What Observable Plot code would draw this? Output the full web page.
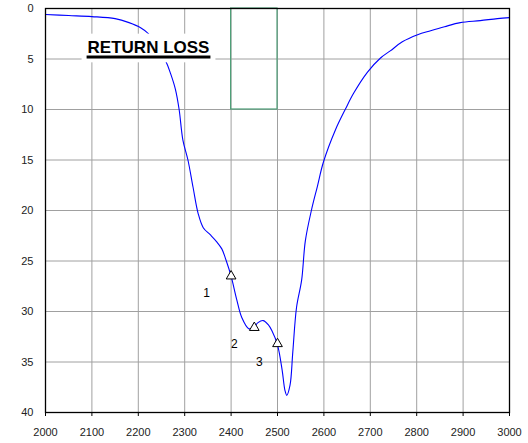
<!DOCTYPE html>
<html>
<head>
<meta charset="utf-8">
<script src="https://cdn.jsdelivr.net/npm/d3@7"></script>
<script src="https://cdn.jsdelivr.net/npm/@observablehq/plot@0.6"></script>
<style>
  html, body { margin: 0; padding: 0; background: #fff; }
  #chart svg { display: block; }
</style>
</head>
<body>
<div id="chart"></div>
<script>
const freq = [2000, 2050, 2100, 2150, 2180, 2205, 2222, 2240, 2260, 2270, 2280, 2288, 2296, 2307, 2318, 2329, 2340, 2355, 2369, 2380, 2389, 2400, 2412, 2423, 2438, 2448, 2458, 2469, 2480, 2488, 2500, 2510, 2516, 2520, 2527, 2533, 2541, 2552, 2560, 2573, 2586, 2599, 2625, 2647, 2664, 2694, 2722, 2743, 2769, 2802, 2830, 2860, 2894, 2937, 2974, 3000];
const loss = [0.6, 0.7, 0.8, 1.0, 1.4, 1.9, 2.5, 3.8, 5.3, 6.5, 8.0, 10.0, 13.0, 15.0, 17.7, 20.3, 21.7, 22.4, 23.1, 23.8, 24.9, 26.5, 28.8, 30.6, 31.7, 31.6, 31.1, 30.9, 31.3, 31.9, 33.3, 35.8, 37.8, 38.3, 37.3, 34.0, 29.6, 26.9, 23.0, 20.0, 17.6, 15.2, 12.0, 9.9, 8.4, 6.3, 4.9, 4.2, 3.3, 2.6, 2.2, 1.8, 1.4, 1.2, 1.0, 0.9];

const markerFreq = [2400, 2450, 2500];
const markerLoss = [26.5, 31.6, 33.2];
const markerLabels = ["1", "2", "3"];
const markerLabelFreq = [2347, 2407, 2461];
const markerLabelLoss = [28.2, 33.2, 35.0];

const specFreq = [2400, 2500];
const specLoss = [0, 10];

const xTicks = [2000, 2100, 2200, 2300, 2400, 2500, 2600, 2700, 2800, 2900, 3000];
const yTicks = [0, 5, 10, 15, 20, 25, 30, 35, 40];

const titleText = "RETURN LOSS";
const titleFreq = 2222;
const titleLoss = 3.85;
const titleSize = 17;

const curve = freq.map((f, i) => ({f, l: loss[i]}));
const markers = markerFreq.map((f, i) => ({f, l: markerLoss[i]}));
const mLabels = markerLabels.map((t, i) => ({t, f: markerLabelFreq[i], l: markerLabelLoss[i]}));

const chart = Plot.plot({
  width: 528,
  height: 443,
  marginLeft: 45,
  marginRight: 19,
  marginTop: 8,
  marginBottom: 31,
  style: {fontFamily: "Arial, 'Liberation Sans', sans-serif", fontSize: "11px", color: "#222", background: "#fff"},
  x: {domain: [2000, 3000], ticks: xTicks, tickFormat: d => String(d)},
  y: {domain: [0, 40], reverse: true, ticks: yTicks},
  marks: [
    Plot.ruleX(xTicks, {stroke: "#a0a0a0", strokeWidth: 1}),
    Plot.ruleY(yTicks, {stroke: "#a0a0a0", strokeWidth: 1}),
    Plot.rect([{x1: specFreq[0], x2: specFreq[1], y1: specLoss[0], y2: specLoss[1]}], {x1: "x1", x2: "x2", y1: "y1", y2: "y2", fill: "none", stroke: "#4f9f78", strokeWidth: 1.2}),
    Plot.line(curve, {x: "f", y: "l", stroke: "#0000ff", strokeWidth: 1.1, curve: "catmull-rom"}),
    Plot.dot(markers, {x: "f", y: "l", symbol: "triangle", r: 3.6, fill: "#fff", stroke: "#000", strokeWidth: 1}),
    Plot.text(mLabels, {x: "f", y: "l", text: "t", fontSize: 12, fill: "#000"}),
    Plot.text([titleText], {x: () => titleFreq, y: () => titleLoss, text: d => d, fontSize: titleSize, fontWeight: "bold", fill: "#000", className: "rl-title"}),
    Plot.axisX({ticks: xTicks, tickSize: 4, tickPadding: 12, tickFormat: d => String(d), fontSize: 11, stroke: "#000"}),
    Plot.axisY({ticks: yTicks, tickSize: 0, tickPadding: 12, fontSize: 11}),
    Plot.frame({stroke: "#000", strokeWidth: 1.3})
  ]
});

document.getElementById("chart").appendChild(chart);

// white backing box + thick underline for the title (in the text's own coordinates)
const tEl = chart.querySelector(".rl-title text");
if (tEl) {
  const bb = tEl.getBBox();
  const tf = tEl.getAttribute("transform") || "";
  const baseline = 0.32 * titleSize;
  const capTop = baseline - 0.716 * titleSize;
  const g = tEl.parentNode;
  const ns = "http://www.w3.org/2000/svg";
  const bg = document.createElementNS(ns, "rect");
  bg.setAttribute("transform", tf);
  bg.setAttribute("x", bb.x - 6);
  bg.setAttribute("width", bb.width + 12);
  bg.setAttribute("y", capTop - 7);
  bg.setAttribute("height", (baseline + 9.5) - (capTop - 7));
  bg.setAttribute("fill", "#fff");
  g.insertBefore(bg, tEl);
  const ul = document.createElementNS(ns, "rect");
  ul.setAttribute("transform", tf);
  ul.setAttribute("x", bb.x - 1);
  ul.setAttribute("width", bb.width + 2);
  ul.setAttribute("y", baseline + 2.7);
  ul.setAttribute("height", 3);
  ul.setAttribute("fill", "#000");
  g.appendChild(ul);
}
</script>
</body>
</html>
